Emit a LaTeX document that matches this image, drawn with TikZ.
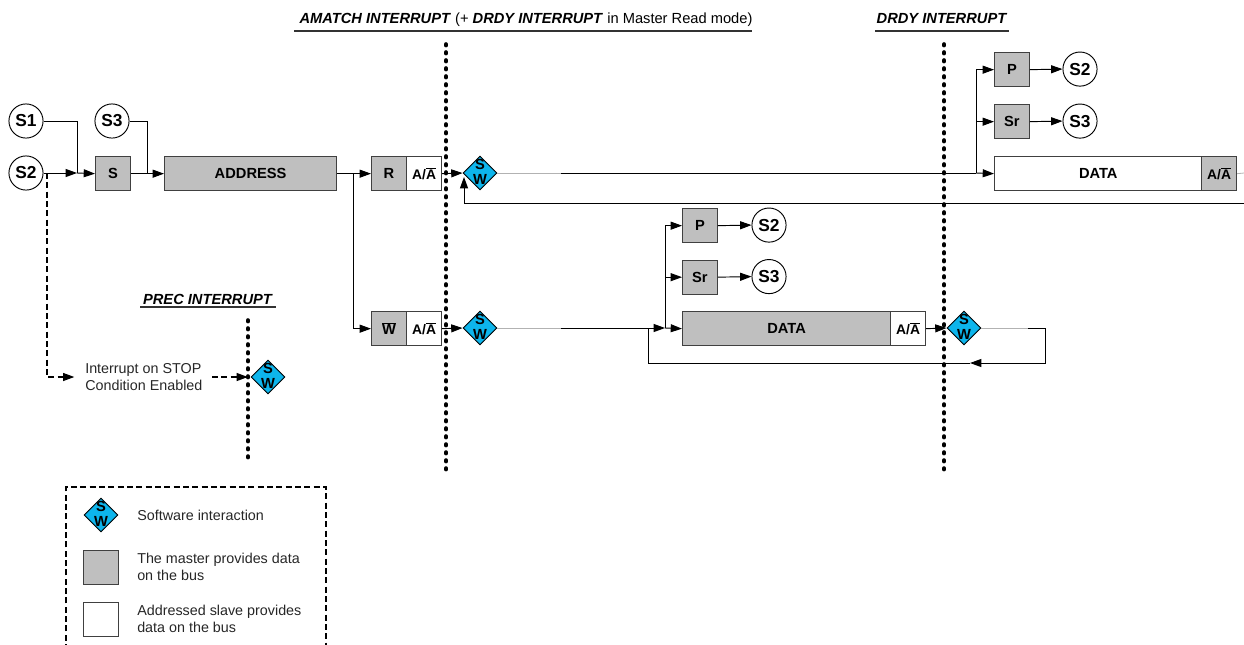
\documentclass[tikz,border=0pt]{standalone}
\usepackage{fontspec}
\setmainfont{Liberation Sans}
\usetikzlibrary{arrows.meta,shapes.geometric}
\newcommand{\barred}[1]{\leavevmode\setbox0\hbox{#1}\rlap{\raisebox{1.12\ht0}{\rule{\wd0}{0.5pt}}}\box0 }
\tikzset{
 x=0.75pt,y=-0.75pt,
 line/.style={draw=black,line width=0.7pt},
 faint/.style={draw=black!30,line width=0.6pt},
 arr/.style={line,-{Triangle[length=8.5pt,width=6pt]}},
 dasharr/.style={arr,line width=1pt,dash pattern=on 4.5pt off 2.5pt},
 mbox/.style={draw=black!75,line width=0.9pt,fill=boxgrey,anchor=north west,inner sep=0pt,font=\fontsize{11}{12}\selectfont\bfseries},
 sbox/.style={draw=black!75,line width=0.9pt,fill=white,anchor=north west,inner sep=0pt,font=\fontsize{11}{12}\selectfont\bfseries},
 small/.style={minimum width=26pt,minimum height=25.6pt},
 aa/.style={minimum width=26.2pt,minimum height=25.6pt,font=\fontsize{10.4}{12}\selectfont\bfseries},
 state/.style={circle,draw=black,line width=0.7pt,fill=white,minimum size=25.6pt,inner sep=0pt,font=\fontsize{13}{14}\selectfont\bfseries},
 swd/.style={diamond,draw=black,line width=0.7pt,fill=swblue,minimum width=25.5pt,minimum height=25.5pt,inner sep=0pt,aspect=1,
   label={[font=\fontsize{11}{11.5}\selectfont\bfseries,align=center,inner sep=0pt,yshift=0.8pt]center:S\\W}},
 barrier/.style={line width=2.7pt,line cap=round,dash pattern=on 1.2pt off 4.8pt},
 head/.style={font=\fontsize{11}{12}\selectfont,anchor=base,inner sep=0pt},
 rulehead/.style={line width=0.9pt,draw=black!80},
 txt/.style={font=\fontsize{10.75}{12.75}\selectfont,align=left,anchor=west,inner sep=0pt,text=black!85},
 legendframe/.style={line width=1pt,dash pattern=on 4.5pt off 2.5pt},
}
\definecolor{boxgrey}{HTML}{BFBFBF}
\definecolor{swblue}{HTML}{0DB5EC}
\begin{document}
\begin{tikzpicture}
\useasboundingbox (0,0) rectangle (1244,644);
% headers
\node[head] (h1) at (526,23) {\textbf{\textit{AMATCH INTERRUPT}} (+ \textbf{\textit{DRDY INTERRUPT}} in Master Read mode)};
\node[head] (h2) at (942,23) {\textbf{\textit{DRDY INTERRUPT}}};
\node[head] (h3) at (208,304) {\textbf{\textit{PREC INTERRUPT}}};
\coordinate (h1a) at (294,31); \coordinate (h1b) at (752,31);
\coordinate (h2a) at (875,31); \coordinate (h2b) at (1009,31);
\coordinate (h3a) at (140,307); \coordinate (h3b) at (276,307);
\draw[rulehead] (h1a)--(h1b); \draw[rulehead] (h2a)--(h2b); \draw[rulehead] (h3a)--(h3b);
% barriers
\coordinate (b1a) at (446,44); \coordinate (b1b) at (446,474);
\coordinate (b2a) at (944,44); \coordinate (b2b) at (944,474);
\coordinate (b3a) at (248,320); \coordinate (b3b) at (248,461);
\draw[barrier] (b1a)--(b1b); \draw[barrier] (b2a)--(b2b); \draw[barrier] (b3a)--(b3b);
% top row
\node[state] (s1) at (26,121) {S1};
\node[state] (s2) at (26,173) {S2};
\node[state] (s3) at (112,121) {S3};
\node[mbox,small] (s) at (95,156) {S};
\node[mbox,minimum width=129pt,minimum height=25.6pt] (addr) at (164,156) {ADDRESS};
\node[mbox,small] (r) at (371,156) {R};
\node[sbox,aa] (ra) at (406,156) {A/\barred{A}};
\node[swd] (sw1) at (480,173) {};
\coordinate (j1) at (77,173);
\coordinate (j2) at (147,173);
\coordinate (j3) at (353,173);
\coordinate (j4) at (47,173);
\draw[arr] (s2.east)--(j1);
\draw[arr] (j1)--(s.west);
\draw[line] (s1.east)-|(j1);
\draw[line] (s3.east)-|(j2);
\draw[arr] (s.east)--(addr.west);
\draw[arr] (addr.east)--(r.west);
\draw[arr] (ra.east)--(sw1.west);
% upper right
\node[mbox,small] (p1) at (994,52) {P};
\node[state] (s2a) at (1080,69.07) {S2};
\node[mbox,small] (sr1) at (994,104) {Sr};
\node[state] (s3a) at (1080,121.07) {S3};
\node[sbox,minimum width=155.5pt,minimum height=25.6pt] (d1) at (994,156) {DATA};
\node[mbox,aa] (d1a) at (1201,156) {A/\barred{A}};
\coordinate (j5) at (976,173);
\coordinate (f1) at (561,173);
\coordinate (e1) at (1244,173);
\coordinate (e2) at (1244,203);
\coordinate (j6) at (464,203);
\coordinate (j6b) at (464,177);
\draw[faint] (sw1.east)--(f1);
\draw[line] (f1)--(j5);
\draw[arr] (j5)--(d1.west);
\draw[arr] (j5)|-(sr1.west);
\draw[arr] (j5)|-(p1.west);
\draw[arr] (p1.east)--(s2a.west);
\draw[arr] (sr1.east)--(s3a.west);
\draw[faint] (d1a.east)--(e1);
\draw[arr] (e2)--(j6)--(j6b);
% lower row
\node[mbox,small] (w) at (371,311) {\barred{W}};
\node[sbox,aa] (wa) at (406,311) {A/\barred{A}};
\node[swd] (sw2) at (480,328) {};
\node[mbox,small] (p2) at (682,208) {P};
\node[state] (s2b) at (769,225.07) {S2};
\node[mbox,small] (sr2) at (682,259.5) {Sr};
\node[state] (s3b) at (769,276.57) {S3};
\node[mbox,minimum width=156pt,minimum height=25.6pt] (d2) at (682,311) {DATA};
\node[sbox,aa] (d2a) at (890,311) {A/\barred{A}};
\node[swd] (sw3) at (964,328) {};
\coordinate (f2) at (561,328);
\coordinate (f3) at (1028,328);
\coordinate (j7) at (665,328);
\coordinate (j8) at (1045,328);
\coordinate (j9) at (1045,363);
\coordinate (j10) at (970,363);
\coordinate (j11) at (648,363);
\coordinate (j12) at (648,328);
\draw[arr] (j3)|-(w.west);
\draw[arr] (wa.east)--(sw2.west);
\draw[faint] (sw2.east)--(f2);
\draw[arr] (f2)--(j7);
\draw[arr] (j7)--(d2.west);
\draw[arr] (j7)|-(sr2.west);
\draw[arr] (j7)|-(p2.west);
\draw[arr] (p2.east)--(s2b.west);
\draw[arr] (sr2.east)--(s3b.west);
\draw[arr] (d2a.east)--(sw3.west);
\draw[faint] (sw3.east)--(f3);
\draw[arr] (f3)--(j8)--(j9)--(j10);
\draw[line] (j10)--(j11)--(j12);
% stop interrupt
\node[txt] (stop) at (85,377) {Interrupt on STOP\\Condition Enabled};
\node[swd] (sw4) at (268,377) {};
\coordinate (j13) at (47,377);
\coordinate (j14) at (212,377);
\draw[dasharr,shorten >=8pt] (j4)--(j13)--(stop.west);
\draw[dasharr,shorten >=2pt] (j14)--(sw4.west);
% legend
\coordinate (l1) at (66,650); \coordinate (l2) at (66,487); \coordinate (l3) at (326,487); \coordinate (l4) at (326,650);
\draw[legendframe] (l1)--(l2)--(l3)--(l4);
\node[swd] (lsw) at (101,515) {};
\node[mbox,small] (lm) at (83,550) {};
\node[sbox,small] (ls) at (83,602) {};
\node[txt] (lt1) at (137,515) {Software interaction};
\node[txt] (lt2) at (137,567) {The master provides data\\on the bus};
\node[txt] (lt3) at (137,619) {Addressed slave provides\\data on the bus};
\end{tikzpicture}
\end{document}
